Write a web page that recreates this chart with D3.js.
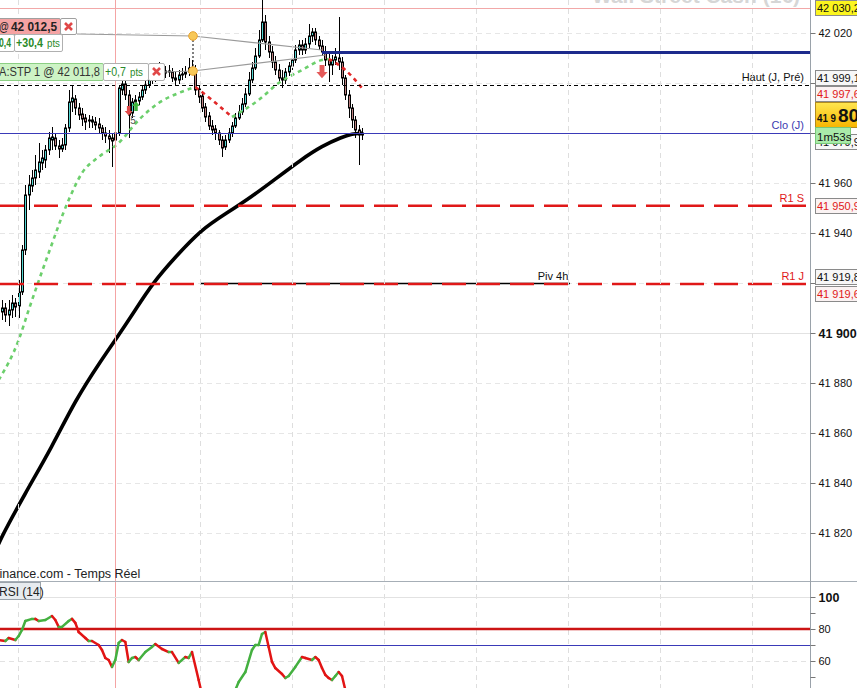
<!DOCTYPE html>
<html><head><meta charset="utf-8">
<script src="https://cdn.jsdelivr.net/npm/d3@7"></script>
<style>body{margin:0;background:#fff;} svg{display:block;font-family:"Liberation Sans",Arial,sans-serif;}</style>
</head><body><svg id="c" width="857" height="688"></svg>
<script>
// ---------- DATA ----------
const candleOpen=[41908.4,41910.0,41907.2,41909.2,41912.0,41910.8,41916.4,41933.2,41955.2,41958.8,
41962.0,41964.4,41968.0,41969.2,41973.2,41977.2,41978.0,41974.8,41973.6,41975.2,
41982.0,41992.4,41993.6,41990.0,41987.6,41986.0,41984.8,41985.2,41984.4,41983.6,
41982.0,41980.0,41978.8,41978.0,41977.2,41980.0,41997.2,41999.6,41995.2,41988.0,
41992.4,41992.8,41994.4,41997.2,41999.2,42001.2,42002.4,42004.0,42005.2,42004.0,
42004.8,42004.4,42002.0,42001.2,42003.2,42003.6,42004.4,42006.0,42005.2,41997.6,
41994.8,41990.4,41986.8,41982.8,41981.6,41980.0,41977.2,41974.4,41977.2,41980.0,
41982.8,41986.0,41988.4,41991.6,41995.6,42001.2,42006.0,42010.8,42017.2,42024.4,
42016.4,42012.4,42008.4,42005.2,42002.0,42001.2,42004.4,42006.8,42009.2,42013.2,
42015.2,42013.2,42015.6,42018.8,42020.4,42017.2,42014.8,42012.4,42009.2,42007.2,
42009.2,42010.0,42008.4,42002.0,41995.2,41990.0,41985.2,41981.2,41979.2];
const candleHigh=[41913.2,41912.0,41913.2,41915.2,41914.0,41921.2,41935.2,41959.2,41963.2,41965.2,
41971.2,41976.0,41973.2,41975.2,41980.4,41982.4,41980.0,41977.2,41978.0,41983.6,
41997.2,41999.2,41995.2,41992.0,41990.0,41987.6,41987.2,41986.8,41986.4,41986.0,
41983.2,41982.4,41981.2,41980.0,41982.0,41999.2,42002.0,42001.2,41997.2,41994.0,
41995.2,41996.4,41998.8,42001.2,42003.6,42005.2,42006.8,42008.4,42007.6,42006.8,
42007.2,42006.0,42004.4,42005.2,42006.0,42006.8,42010.0,42009.2,42007.2,41999.2,
41996.4,41992.0,41988.4,41985.2,41983.2,41981.2,41978.8,41979.2,41982.0,41984.4,
41988.0,41991.2,41994.0,41998.0,42004.4,42008.4,42014.0,42021.2,42035.2,42027.2,
42018.8,42014.8,42010.8,42007.6,42005.2,42006.0,42008.4,42011.2,42015.2,42017.2,
42017.2,42018.0,42023.6,42022.0,42022.0,42018.8,42017.2,42014.8,42011.6,42011.2,
42014.0,42026.4,42010.4,42003.2,41997.2,41991.6,41986.8,41983.2,41982.0];
const candleLow=[41905.2,41904.4,41902.8,41906.0,41906.4,41906.0,41915.2,41931.2,41949.2,41956.4,
41959.2,41962.0,41965.2,41966.0,41971.2,41973.2,41973.2,41970.0,41972.4,41973.2,
41980.4,41988.4,41987.2,41985.2,41982.8,41981.2,41982.0,41982.0,41981.2,41979.6,
41977.2,41976.0,41972.0,41966.4,41974.0,41978.8,41995.2,41993.2,41978.0,41986.0,
41990.4,41991.2,41993.2,41995.6,41998.0,41999.6,42000.4,42002.0,42001.2,42002.0,
42002.4,42000.4,41998.8,41999.6,42001.2,42002.0,42002.8,42003.2,41995.2,41992.0,
41988.4,41984.4,41981.2,41979.2,41977.2,41975.2,41970.4,41973.2,41976.0,41978.4,
41982.0,41985.2,41987.2,41990.4,41994.8,42000.0,42005.2,42010.0,42016.4,42013.2,
42010.0,42006.0,42003.2,42000.4,41998.0,41999.6,42002.8,42005.2,42008.0,42011.2,
42011.2,42011.6,42014.0,42016.4,42015.2,42013.2,42010.8,42006.8,42000.4,42003.2,
42007.2,42005.2,41999.2,41993.2,41986.0,41982.0,41978.0,41967.2,41977.2];
const candleClose=[41910.0,41907.2,41909.2,41912.0,41910.4,41916.4,41933.2,41955.2,41959.2,41962.0,
41965.2,41968.4,41970.0,41973.2,41978.0,41978.4,41974.8,41973.6,41975.2,41982.0,
41992.4,41994.0,41990.0,41987.2,41985.6,41984.4,41985.2,41984.4,41983.2,41982.0,
41980.0,41978.8,41977.6,41976.8,41980.0,41998.0,41999.6,41995.2,41987.2,41992.4,
41993.2,41994.4,41997.2,41999.2,42001.2,42002.8,42004.0,42005.6,42003.6,42004.8,
42004.4,42002.0,42001.2,42003.2,42003.6,42004.4,42006.0,42005.2,41997.2,41994.4,
41990.0,41986.4,41982.8,41981.2,41980.0,41977.2,41974.0,41977.2,41980.0,41982.8,
41986.0,41988.4,41991.6,41995.6,42001.2,42006.0,42010.8,42017.2,42024.4,42016.4,
42012.4,42008.4,42005.2,42002.0,42001.2,42004.4,42006.8,42009.2,42013.2,42015.2,
42013.2,42015.6,42018.8,42020.4,42017.2,42014.8,42012.4,42009.2,42007.2,42009.2,
42010.4,42008.4,42002.0,41995.2,41990.0,41985.2,41981.2,41979.2,41980.0];

// long moving average (black)
const smaIdx=[-2,-1,7,15,22,30,34,40,45,52,60,67,75,82,90,96,102,105,108];
const smaVal=[41812.0,41816.4,41836.0,41854.4,41873.2,41889.6,41897.2,41909.2,41919.6,41930.4,41941.6,41947.6,41954.6,41961.6,41969.6,41974.8,41978.4,41979.6,41980.0];
// short moving average (dotted, green up / red down)
const maIdx=[-1,5,8,14,20,24,29,35,41,47,53,58,63,69,77,83,90,96,98,103,108];
const maVal=[41881.2,41897.2,41909.2,41932.0,41953.2,41964.0,41970.4,41976.0,41985.2,41992.0,41996.0,41998.4,41993.2,41986.4,41993.2,42000.0,42005.2,42009.2,42009.6,42005.2,41998.0];
const maGreenRanges=[[-1,58],[69,98]];
const maRedRanges=[[58,69],[98,108]];

// RSI (14)
const rsiIdx=[-1,1,2,4,5,6,7,9,10,11,13,15,16,17,18,20,21,22,23,25,26,27,29,30,31,32,33,34,35,36,37,38,39,40,41,43,45,46,48,50,51,53,55,56,57,59,60,62,64,66,68,70,71,73,75,76,77,78,79,80,81,82,84,85,86,88,90,91,93,94,95,96,97,98,99,100,101,102,103,105,108];
const rsiVal=[73.1,72.5,74.4,73.1,75.6,79.4,85.0,86.3,86.3,85.0,85.6,88.1,85.6,81.3,81.3,85.0,86.3,83.8,78.1,74.4,72.5,72.5,70.0,66.9,61.9,60.6,56.3,60.6,71.3,73.1,71.9,59.4,61.9,62.5,60.6,65.6,68.8,70.6,67.5,65.6,65.6,58.8,62.5,61.9,65.6,48.1,38.8,29.4,23.1,21.9,28.1,41.9,46.9,53.1,66.9,70.0,70.0,76.9,78.1,68.8,59.4,55.6,51.9,49.4,50.6,56.3,62.5,61.9,60.6,62.5,60.6,55.6,51.3,49.4,48.1,50.6,53.1,50.6,41.9,29.4,24.4];

// ticks
const priceTicks=[42020,42000,41980,41960,41940,41920,41900,41880,41860,41840,41820];
const priceTicksHidden=[42000,41980,41920]; // covered by value boxes
const rsiTicks=[100,90,80,70,60,50];
const rsiTickLabels={100:"100",80:"80",60:"60"};
const gridIdx=[4.8,59.4,86.9,114.5,142.1,169.7,197.3,224.9];

// levels
const levelHigh=42030.2, levelOrder=42012.5, levelHautJPre=41999.1, levelCloJ=41980.0, levelR1S=41950.9, levelR1J=41919.6, levelPiv4h=41919.8;
const rsiOverbought=80, rsiMid=70;
const cursorIdx=34;
const orderLineStartIdx=96;
const pivStartIdx=59.4, pivEndIdx=170.4;

// order link lines
const upperLinkIdx=[22.5,57.3,96], upperLinkVal=[42019.6,42018.8,42013.2];
const lowerLinkIdx=[48.3,57.3,97], lowerLinkVal=[42004.4,42004.8,42011.2];

// right axis value boxes
const boxValues=[42030.2,41999.1,41997.6,41979.9,41950.9,41919.8,41919.6];
const boxTexts=["42 030,2","41 999,1","41 997,6","41 979,9","41 950,9","41 919,8","41 919,6"];
const boxShift=[0,-8,4.5,8,0,-6.5,9];
const boxKind=["yellow","plain","red","plain","red","plain","red"];
const lastPrice=41980.0;

// ---------- DRAW ----------
const svg=d3.select("#c");
const W=857,H=688,axisX=810,mainBot=581,rsiTop=582;
const x=d3.scaleLinear().domain([0,108]).range([2,362]);
const y=d3.scaleLinear().domain([41820,42020]).range([533,33]);
const yR=d3.scaleLinear().domain([60,100]).range([661,597]);
const px=v=>Math.round(v)+0.5;

const defs=svg.append("defs");
defs.append("clipPath").attr("id","clipMain").append("rect").attr("x",0).attr("y",0).attr("width",axisX).attr("height",mainBot);
defs.append("clipPath").attr("id","clipRsi").append("rect").attr("x",0).attr("y",rsiTop).attr("width",axisX).attr("height",H-rsiTop);
const gr=defs.append("linearGradient").attr("id","gold").attr("x1",0).attr("y1",0).attr("x2",0).attr("y2",1);
gr.append("stop").attr("offset","0%").attr("stop-color","#ffe650");
gr.append("stop").attr("offset","100%").attr("stop-color","#f7b500");

// title (cut at top)
svg.append("text").attr("x",800).attr("y",3).attr("text-anchor","end").attr("font-size",21).attr("font-weight","bold")
  .attr("fill","#d6d6d6").text("Wall Street Cash (1€)");

const main=svg.append("g").attr("clip-path","url(#clipMain)");
// grid
priceTicks.forEach(v=>{
  main.append("line").attr("x1",0).attr("x2",axisX).attr("y1",px(y(v))).attr("y2",px(y(v)))
    .attr("stroke",v===41900?"#e2e2e2":"#e6e6e6").attr("stroke-dasharray",v===41900?null:"5,4");
});
gridIdx.forEach(i=>{
  svg.append("line").attr("x1",px(x(i))).attr("x2",px(x(i))).attr("y1",0).attr("y2",H)
    .attr("stroke","#dedede").attr("stroke-dasharray","5,4");
});
// pink level & cursor
main.append("line").attr("x1",0).attr("x2",axisX).attr("y1",px(y(levelHigh))).attr("y2",px(y(levelHigh))).attr("stroke","#f2a8a8");
svg.append("line").attr("x1",px(x(cursorIdx))).attr("x2",px(x(cursorIdx))).attr("y1",0).attr("y2",H).attr("stroke","#f4a4a4");

// black long MA
main.append("path").datum(smaIdx.map((d,k)=>[d,smaVal[k]]))
  .attr("d",d3.line().x(d=>x(d[0])).y(d=>y(d[1])).curve(d3.curveBasis))
  .attr("fill","none").attr("stroke","#000").attr("stroke-width",3.6);

// candles
const candles=d3.range(candleOpen.length).map(i=>({i,o:candleOpen[i],h:candleHigh[i],l:candleLow[i],c:candleClose[i]}));
const cg=main.append("g");
cg.selectAll("line").data(candles).join("line")
  .attr("x1",d=>px(x(d.i))).attr("x2",d=>px(x(d.i))).attr("y1",d=>y(d.h)).attr("y2",d=>y(d.l))
  .attr("stroke","#000").attr("stroke-width",1);
cg.selectAll("rect").data(candles).join("rect")
  .attr("x",d=>Math.round(x(d.i))-0.5).attr("width",2)
  .attr("y",d=>Math.min(y(d.o),y(d.c))).attr("height",d=>Math.max(1,Math.abs(y(d.o)-y(d.c))))
  .attr("fill",d=>d.c>=d.o?"#52d6d2":"#bb7f7f").attr("stroke","#000").attr("stroke-width",1);

// dotted MA
const maPts=maIdx.map((d,k)=>[d,maVal[k]]);
const maLine=d3.line().x(d=>x(d[0])).y(d=>y(d[1])).curve(d3.curveMonotoneX);
maGreenRanges.forEach(r=>{
  main.append("path").datum(maPts.filter(p=>p[0]>=r[0]&&p[0]<=r[1])).attr("d",maLine)
   .attr("fill","none").attr("stroke","#6ccf6c").attr("stroke-width",2.6).attr("stroke-dasharray","4,4");
});
maRedRanges.forEach(r=>{
  main.append("path").datum(maPts.filter(p=>p[0]>=r[0]&&p[0]<=r[1])).attr("d",maLine)
   .attr("fill","none").attr("stroke","#e02828").attr("stroke-width",2.6).attr("stroke-dasharray","4,4");
});

// level lines
const hl=(v,attrs,x1=0,x2=axisX)=>{const l=main.append("line").attr("x1",x1).attr("x2",x2).attr("y1",px(y(v))).attr("y2",px(y(v)));Object.entries(attrs).forEach(([k,a])=>l.attr(k,a));return l;};
hl(levelHautJPre,{stroke:"#000","stroke-dasharray":"4,3"});
hl(levelCloJ,{stroke:"#3a3ab8"});
hl(levelOrder,{stroke:"#1c2a8c","stroke-width":3},x(orderLineStartIdx),axisX);
hl(levelPiv4h,{stroke:"#000","stroke-width":1.6},x(pivStartIdx),x(pivEndIdx));
main.append("line").attr("x1",0).attr("x2",axisX).attr("y1",y(levelR1S)).attr("y2",y(levelR1S)).attr("stroke","#e01818").attr("stroke-width",2.6).attr("stroke-dasharray","24,10");
main.append("line").attr("x1",0).attr("x2",axisX).attr("y1",y(levelR1J)).attr("y2",y(levelR1J)).attr("stroke","#e01818").attr("stroke-width",2.6).attr("stroke-dasharray","24,10");

// level labels
const lab=(t,v,col,xx=804,anchor="end")=>main.append("text").attr("x",xx).attr("y",y(v)-4).attr("text-anchor",anchor).attr("font-size",11).attr("fill",col).text(t);
lab("Haut (J, Pré)",levelHautJPre,"#111");
lab("Clo (J)",levelCloJ,"#3a3ab0");
lab("R1 S",levelR1S,"#e01818");
lab("R1 J",levelR1J,"#e01818");
lab("Piv 4h",levelPiv4h,"#111",553,"middle");

// order link lines
const linkLine=d3.line().x(d=>x(d[0])).y(d=>y(d[1]));
main.append("path").datum(upperLinkIdx.map((d,k)=>[d,upperLinkVal[k]])).attr("d",linkLine).attr("fill","none").attr("stroke","#9a9a9a").attr("stroke-width",1.2);
main.append("path").datum(lowerLinkIdx.map((d,k)=>[d,lowerLinkVal[k]])).attr("d",linkLine).attr("fill","none").attr("stroke","#9a9a9a").attr("stroke-width",1.2);
main.append("line").attr("x1",x(upperLinkIdx[1])).attr("x2",x(upperLinkIdx[1])).attr("y1",y(upperLinkVal[1])).attr("y2",y(lowerLinkVal[1])).attr("stroke","#000").attr("stroke-dasharray","2,2");
[[upperLinkIdx[1],upperLinkVal[1]],[lowerLinkIdx[1],lowerLinkVal[1]]].forEach(p=>{
  main.append("circle").attr("cx",x(p[0])).attr("cy",y(p[1])).attr("r",4.3).attr("fill","#f8c858").attr("stroke","#e6a232");
});

// signal arrows
const arrow=(cx,cy,s,dir,col)=>{ // dir 1 down, -1 up
  const p=`M${cx-s*0.35},${cy-dir*s} L${cx+s*0.35},${cy-dir*s} L${cx+s*0.35},${cy} L${cx+s*0.8},${cy} L${cx},${cy+dir*s*0.9} L${cx-s*0.8},${cy} L${cx-s*0.35},${cy} Z`;
  main.append("path").attr("d",p).attr("fill",col);
};
arrow(x(38),y(41988.8),5,1,"#e04848");
arrow(x(40.2),y(41990.8),5,-1,"#3fb43f");
main.append("text").attr("x",x(39.3)).attr("y",y(41983.6)).attr("font-size",10).attr("fill","#555").attr("text-anchor","middle").text("5");
arrow(x(96),y(42004.4),7,1,"#e45a5a");

// top-left order boxes
const ob=svg.append("g");
const box=(x0,y0,w,h,fill,stroke)=>ob.append("rect").attr("x",x0+0.5).attr("y",y0+0.5).attr("width",w).attr("height",h).attr("fill",fill).attr("stroke",stroke).attr("rx",1.5);
const xMark=(cx,cy)=>{ob.append("path").attr("d",`M${cx-3.5},${cy-3.5}L${cx+3.5},${cy+3.5}M${cx+3.5},${cy-3.5}L${cx-3.5},${cy+3.5}`).attr("stroke","#e04848").attr("stroke-width",2.6);};
const txt=(xx,yy,t,size,col,bold,len)=>{const e=ob.append("text").attr("x",xx).attr("y",yy).attr("font-size",size).attr("fill",col).attr("font-weight",bold?"bold":"normal").text(t);if(len)e.attr("textLength",len).attr("lengthAdjust","spacingAndGlyphs");return e;};
box(-10,18,70,16,"#f5a3a3","#a0a0a0");
txt(-1,31,"@",12,"#222",false,10);
txt(11,31,"42 012,5",12,"#222",true,46);
box(60,18,16,16,"#fff","#a0a0a0"); xMark(68.5,26.5);
box(-10,34,24,17,"#fff","#b0b0b0");
txt(-1,47,"0,4",12,"#2a8a2a",true,12);
box(14,34,48,17,"#fff","#b0b0b0");
txt(16,47,"+30,4",12,"#2a8a2a",true,27);
txt(47,47,"pts",10.5,"#2a8a2a",false,13);
box(-10,63,113,17,"#cdf3c5","#8ccf84");
txt(-1,76,"A:STP 1 @ 42 011,8",12,"#333",false,101);
box(103,63,45,17,"#fff","#b0b0b0");
txt(105,76,"+0,7",12,"#2a8a2a",false,21);
txt(130,76,"pts",10.5,"#2a8a2a",false,13);
box(148,63,16,17,"#fff","#b0b0b0"); xMark(156.5,71.5);

// source text
svg.append("text").attr("x",-4).attr("y",578).attr("font-size",12.5).attr("fill","#222").text("finance.com - Temps Réel");

// ---------- RSI pane ----------
svg.append("line").attr("x1",0).attr("x2",W).attr("y1",581.5).attr("y2",581.5).attr("stroke","#a6aeb6");
const rp=svg.append("g").attr("clip-path","url(#clipRsi)");
rp.append("line").attr("x1",0).attr("x2",axisX).attr("y1",px(yR(100))).attr("y2",px(yR(100))).attr("stroke","#e2e2e2");
rp.append("line").attr("x1",0).attr("x2",axisX).attr("y1",px(yR(60))).attr("y2",px(yR(60))).attr("stroke","#e2e2e2").attr("stroke-dasharray","5,4");
rp.append("line").attr("x1",0).attr("x2",axisX).attr("y1",yR(rsiOverbought)).attr("y2",yR(rsiOverbought)).attr("stroke","#cc1414").attr("stroke-width",2.6);
rp.append("line").attr("x1",0).attr("x2",axisX).attr("y1",px(yR(rsiMid))).attr("y2",px(yR(rsiMid))).attr("stroke","#3a3ab8");
const rsiPts=rsiIdx.map((d,k)=>[d,rsiVal[k]]);
for(let k=1;k<rsiPts.length;k++){
  const a=rsiPts[k-1],b=rsiPts[k];
  rp.append("line").attr("x1",x(a[0])).attr("y1",yR(a[1])).attr("x2",x(b[0])).attr("y2",yR(b[1]))
    .attr("stroke",b[1]>=a[1]?"#44b040":"#e21414").attr("stroke-width",2.5).attr("stroke-linecap","round");
}
svg.append("rect").attr("x",-10.5).attr("y",582.5).attr("width",51).attr("height",17).attr("fill","#e7ebef").attr("stroke","#9aa2aa");
svg.append("text").attr("x",-1).attr("y",596).attr("font-size",12).attr("fill","#222").text("RSI (14)");

// ---------- right axis ----------
svg.append("line").attr("x1",axisX+0.5).attr("x2",axisX+0.5).attr("y1",0).attr("y2",H).attr("stroke","#9aa2aa");
const fmt=d3.formatLocale({decimal:",",thousands:" ",grouping:[3],currency:["","€"]}).format(",.0f");
const ax=svg.append("g").attr("transform",`translate(${axisX+0.5},0)`)
  .call(d3.axisRight(y).tickValues(priceTicks).tickSize(5).tickPadding(3).tickFormat(d=>priceTicksHidden.includes(d)?"":fmt(d)));
ax.select(".domain").remove();
ax.selectAll("line").attr("stroke","#777");
ax.selectAll("text").attr("font-family","Liberation Sans, Arial, sans-serif").attr("fill","#111")
  .attr("font-size",d=>d===41900?12.5:11).attr("font-weight",d=>d===41900?"bold":"normal");
const axR=svg.append("g").attr("transform",`translate(${axisX+0.5},0)`)
  .call(d3.axisRight(yR).tickValues(rsiTicks).tickSize(5).tickPadding(3).tickFormat(d=>rsiTickLabels[d]||""));
axR.select(".domain").remove();
axR.selectAll("line").attr("stroke","#777");
axR.selectAll("text").attr("font-family","Liberation Sans, Arial, sans-serif").attr("fill","#111")
  .attr("font-size",d=>d===100?12.5:11).attr("font-weight",d=>d===100?"bold":"normal");

// value boxes
const vb=svg.append("g");
boxValues.forEach((v,k)=>{
  const h=15, cy=y(v)+boxShift[k], top=Math.round(cy-h/2)+0.5;
  const fill=boxKind[k]==="yellow"?"#fbf51e":(boxKind[k]==="red"?"#fbf3f3":"#f7f7f7");
  vb.append("rect").attr("x",815.5).attr("y",top).attr("width",50).attr("height",h).attr("fill",fill).attr("stroke","#8a8a8a");
  vb.append("text").attr("x",817).attr("y",top+h/2+4).attr("font-size",11)
    .attr("fill",boxKind[k]==="red"?"#e01818":"#111").text(boxTexts[k]);
});
// last price box
const lpTop=Math.round(y(lastPrice))-30.5;
vb.append("rect").attr("x",815.5).attr("y",lpTop).attr("width",50).attr("height",25).attr("fill","url(#gold)").attr("stroke","#b08a20");
vb.append("text").attr("x",817).attr("y",lpTop+19).attr("font-size",11.5).attr("font-weight","bold").attr("fill","#111")
  .attr("textLength",19).attr("lengthAdjust","spacingAndGlyphs").text(fmt(lastPrice).slice(0,4));
vb.append("text").attr("x",838).attr("y",lpTop+19).attr("font-size",19).attr("font-weight","bold").attr("fill","#111").text(fmt(lastPrice).slice(4));
vb.append("rect").attr("x",815.5).attr("y",lpTop+25).attr("width",35).attr("height",16).attr("fill","#a9eba9").attr("stroke","#78c878");
vb.append("text").attr("x",817).attr("y",lpTop+38).attr("font-size",11.5).attr("fill","#111").text("1m53s");
</script></body></html>
